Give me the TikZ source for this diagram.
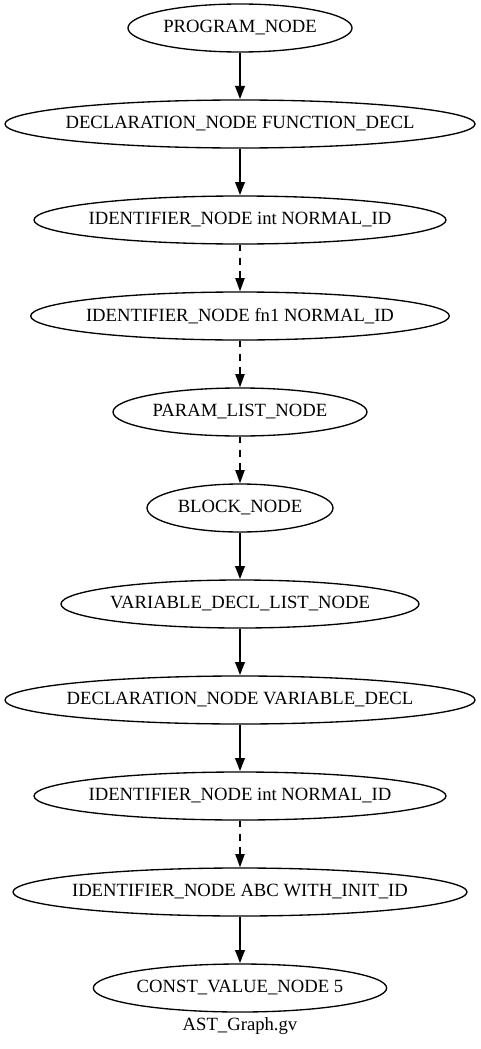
\documentclass[tikz,border=0pt]{standalone}
\usepackage{fontspec}
\setmainfont{Liberation Serif}
\usetikzlibrary{arrows.meta,shapes.geometric}
\newcommand{\nodelabel}[1]{\makebox[0pt]{#1}}
\begin{document}
\begin{tikzpicture}[x=1pt,y=1pt,
    treenode/.style ={ellipse, draw, line width=1pt, minimum height=36pt, inner sep=0pt,
      font=\fontsize{14}{16}\selectfont},
    childedge/.style ={line width=2pt, -{Triangle[length=10pt,width=7pt]}},
    siblingedge/.style ={line width=1pt, dash pattern=on 5pt off 5pt, -{Triangle[length=10pt,width=7pt]}}]
   \useasboundingbox (0,0) rectangle (360,-786.75);
   \node[treenode, minimum width=168pt] (A) at (180,-21)  {\nodelabel{PROGRAM\_NODE}};
   \node[treenode, minimum width=352.5pt] (B) at (180,-93)  {\nodelabel{DECLARATION\_NODE FUNCTION\_DECL}};
   \node[treenode, minimum width=309pt] (C) at (180,-165)  {\nodelabel{IDENTIFIER\_NODE int NORMAL\_ID}};
   \node[treenode, minimum width=314pt] (D) at (180,-237)  {\nodelabel{IDENTIFIER\_NODE fn1 NORMAL\_ID}};
   \node[treenode, minimum width=190.5pt] (E) at (180,-309)  {\nodelabel{PARAM\_LIST\_NODE}};
   \node[treenode, minimum width=139.5pt] (F) at (180,-381)  {\nodelabel{BLOCK\_NODE}};
   \node[treenode, minimum width=268.5pt] (G) at (180,-453)  {\nodelabel{VARIABLE\_DECL\_LIST\_NODE}};
   \node[treenode, minimum width=352.5pt] (H) at (180,-525)  {\nodelabel{DECLARATION\_NODE VARIABLE\_DECL}};
   \node[treenode, minimum width=309pt] (I) at (180,-597)  {\nodelabel{IDENTIFIER\_NODE int NORMAL\_ID}};
   \node[treenode, minimum width=340.5pt] (J) at (180,-669)  {\nodelabel{IDENTIFIER\_NODE ABC WITH\_INIT\_ID}};
   \node[treenode, minimum width=220pt] (K) at (180,-741)  {\nodelabel{CONST\_VALUE\_NODE 5}};
   \node[font=\fontsize{14}{16}\selectfont] (title) at (180,-769.5) {AST\_Graph.gv};
   \draw[childedge] (A) to  (B);
   \draw[childedge] (B) to  (C);
   \draw[siblingedge] (C) to  (D);
   \draw[siblingedge] (D) to  (E);
   \draw[siblingedge] (E) to  (F);
   \draw[childedge] (F) to  (G);
   \draw[childedge] (G) to  (H);
   \draw[childedge] (H) to  (I);
   \draw[siblingedge] (I) to  (J);
   \draw[childedge] (J) to  (K);
 \end{tikzpicture}
\end{document}
